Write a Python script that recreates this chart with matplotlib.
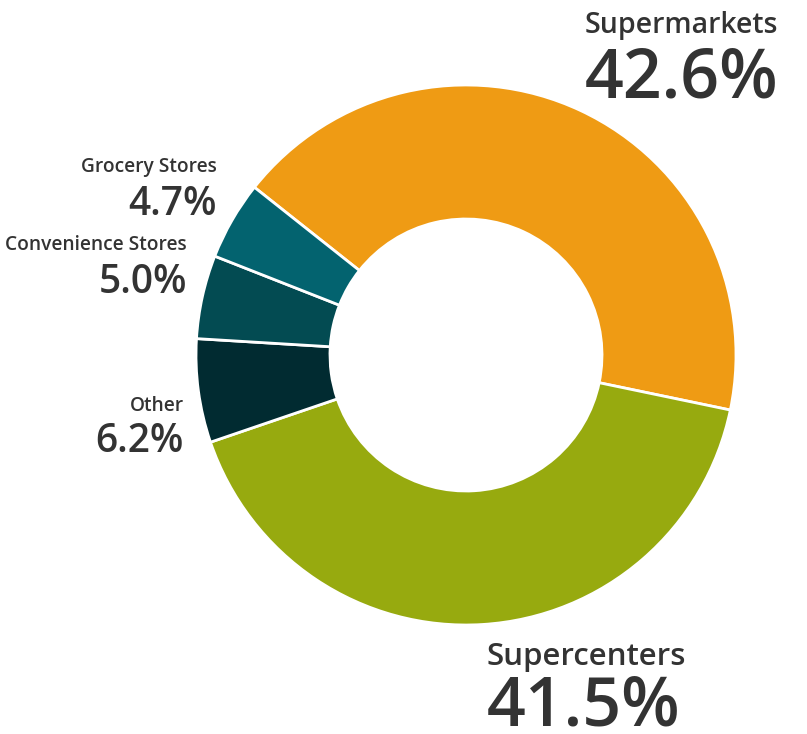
import matplotlib
matplotlib.use('Agg')
import matplotlib.pyplot as plt

labels = ['Supermarkets', 'Supercenters', 'Other', 'Convenience Stores', 'Grocery Stores']
shares = [42.6, 41.5, 6.2, 5.0, 4.7]
colors = ['#EF9B14', '#97AA0F', '#012B31', '#034B52', '#03636F']

W, H = 807, 734
fig = plt.figure(figsize=(W / 100, H / 100), dpi=100)
ax = fig.add_axes([0, 0, 1, 1])

cx, cy, r = 466, H - 355, 270
ax.pie(shares, colors=colors, center=(cx, cy), radius=r, startangle=141.6,
       counterclock=False, frame=True,
       wedgeprops=dict(width=r - 136, edgecolor='white', linewidth=2))
ax.set_xlim(0, W)
ax.set_ylim(0, H)
ax.set_aspect('equal')
ax.axis('off')

TXT = '#333333'
FAM = ['Open Sans', 'DejaVu Sans']


def label(x, y_name, y_val, name, val, ha, ns, vs):
    ax.text(x, H - y_name, name, ha=ha, va='baseline', fontsize=ns,
            fontweight='semibold', color=TXT, family=FAM)
    ax.text(x, H - y_val, f'{val:.1f}%', ha=ha, va='baseline', fontsize=vs,
            fontweight='semibold', color=TXT, family=FAM)


label(778, 33, 97, labels[0], shares[0], 'right', 20.5, 49)
label(487, 665, 726, labels[1], shares[1], 'left', 22.5, 49)
label(184, 411, 452, labels[2], shares[2], 'right', 13.8, 28)
label(187, 250, 293, labels[3], shares[3], 'right', 13.8, 28)
label(217, 172, 215, labels[4], shares[4], 'right', 13.8, 28)

fig.savefig('out.png', dpi=100)
